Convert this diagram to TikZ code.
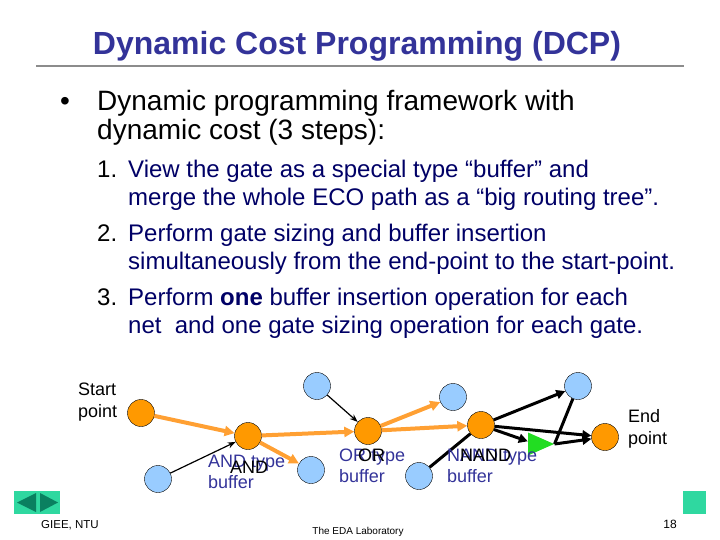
\documentclass[tikz,border=0pt]{standalone}
\usepackage{fontspec}
\setmainfont{Liberation Sans}
\usetikzlibrary{arrows.meta,shapes.geometric}
\definecolor{ttl}{HTML}{333399}
\definecolor{navy}{HTML}{000066}
\definecolor{orng}{HTML}{FF9900}
\definecolor{oline}{HTML}{FFA033}
\definecolor{lblue}{HTML}{99CCFF}
\definecolor{gatecol}{HTML}{22DD22}
\definecolor{navbox}{HTML}{2FD8A0}
\definecolor{navtri}{HTML}{0A8060}
\tikzstyle{og}=[shape=circle, minimum size=27pt, inner sep=0, draw=black, fill=orng]
\tikzstyle{bl}=[shape=circle, minimum size=27pt, inner sep=0, draw=black, fill=lblue]
\tikzstyle{gt}=[shape=isosceles triangle, isosceles triangle stretches, minimum width=23pt, minimum height=26pt, inner sep=0, fill=gatecol]
\tikzstyle{oa}=[draw=oline, line width=4pt, -{Triangle[length=10pt,width=10pt]}]
\tikzstyle{ta}=[line width=1.2pt, -{Stealth[length=8pt,width=6pt]}]
\tikzstyle{ka}=[line width=3pt, -{Triangle[length=9pt,width=9pt]}]
\tikzstyle{lb}=[anchor=base west, inner sep=0]
\tikzstyle{bt}=[lb, font=\fontsize{28}{34}\selectfont]
\tikzstyle{lt}=[lb, font=\fontsize{24}{29}\selectfont]
\tikzstyle{gl}=[lb, font=\fontsize{18}{21}\selectfont]

\begin{document}
\begin{tikzpicture}[x=1pt,y=-1pt]
\useasboundingbox (0,0) rectangle (720,540);
\node[anchor=base, inner sep=0, text=ttl, font=\fontsize{32}{38}\selectfont\bfseries] (title) at (357,55) {Dynamic Cost Programming (DCP)};
\draw[black!45, line width=1.5pt] (36,66) -- (684,66);
\node[bt] (dot) at (60,111) {•};
\node[bt] (p1) at (97,111) {Dynamic programming framework with};
\node[bt] (p2) at (97,140) {dynamic cost (3 steps):};
\foreach \n/\y in {1/178,2/241,3/305}
{
\node[lt] (n\n) at (97,\y) {\n.};
}
\foreach \y/\t in {178/{View the gate as a special type “buffer” and},
                   206/{merge the whole ECO path as a “big routing tree”.},
                   241/{Perform gate sizing and buffer insertion},
                   269/{simultaneously from the end-point to the start-point.},
                   305/{Perform \textbf{one} buffer insertion operation for each},
                   333/{net~ and one gate sizing operation for each gate.}}
{
\node[lt, text=navy] at (128,\y) {\t};
}
\node[og] (st) at (141,413) {};
\node[og] (g1) at (248,436) {};
\node[og] (g2) at (368,431) {};
\node[og] (g3) at (481,425) {};
\node[og] (en) at (605,437) {};
\foreach \n/\x/\y in {1/158/479,2/317/386,3/311/470,4/453/397,5/419/476,6/578/386}
{
\node[bl] (b\n) at (\x,\y) {};
}
\node[gt] (gt) at (535.5,444) {};
\draw[oa] (st) -- (g1);
\draw[oa] (g1) -- (g2);
\draw[oa] (g1) -- (b3);
\draw[oa] (g2) -- (b4);
\draw[oa] (g2) -- (g3);
\draw[ta] (b1) -- (g1);
\draw[ta] (b2) -- (g2);
\draw[line width=3pt] (b5) -- (g3);
\draw[ka] (g3) -- (b6);
\draw[ka] (g3) -- (en);
\draw[ka] (g3) -- (gt);
\draw[ka] (gt.apex) -- (en);
\draw[line width=3pt] (gt.apex) -- (b6);
\node[gl] (s1) at (78,395) {Start};
\node[gl] (s2) at (78,417) {point};
\node[gl] (e1) at (628,422) {End};
\node[gl] (e2) at (628,444) {point};
\node[gl, text=ttl] (l1) at (208,467) {AND type};
\node[gl, text=ttl] (l1b) at (208,488) {buffer};
\node[gl] (k1) at (230,473) {AND};
\node[gl, text=ttl] (l2) at (339,461) {OR type};
\node[gl, text=ttl] (l2b) at (339,482) {buffer};
\node[gl] (k2) at (358,461) {OR};
\node[gl, text=ttl] (l3) at (447,461) {NAND type};
\node[gl, text=ttl] (l3b) at (447,482) {buffer};
\node[gl] (k3) at (460,461) {NAND};
\fill[navbox] (14,491) rectangle (60,514);
\fill[navtri] (17,502.5) -- (36,493) -- (36,512) -- cycle;
\fill[navtri] (40,493) -- (40,512) -- (58,502.5) -- cycle;
\fill[navbox] (683,491) rectangle (706,514);
\node[anchor=base, inner sep=0, font=\fontsize{11.5}{14}\selectfont] (f1) at (70,528) {GIEE, NTU};
\node[anchor=base, inner sep=0, font=\fontsize{10}{12}\selectfont] (f2) at (358,534) {The EDA Laboratory};
\node[anchor=base, inner sep=0, font=\fontsize{12}{14}\selectfont] (f3) at (670,528) {18};
\end{tikzpicture}
\end{document}
